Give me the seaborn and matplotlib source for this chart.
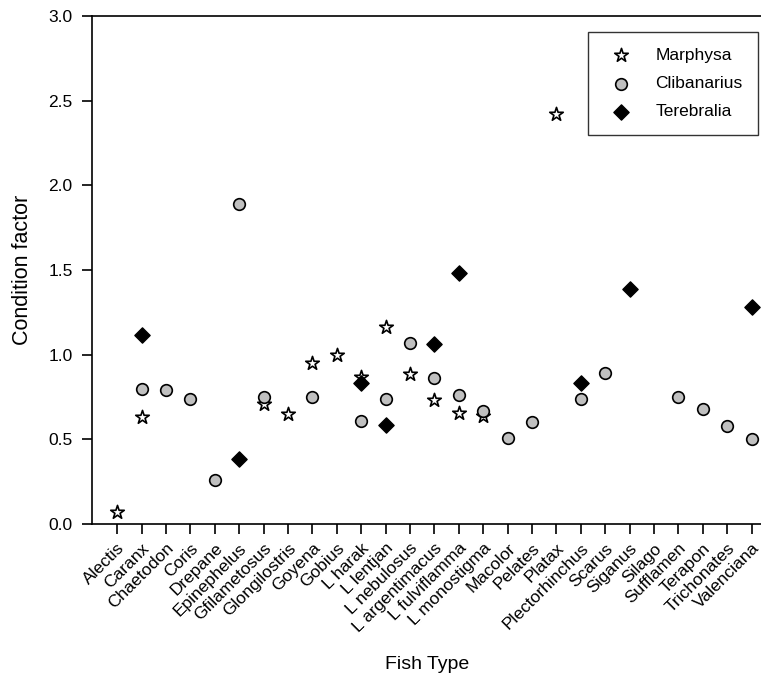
import matplotlib
matplotlib.use("Agg")
import matplotlib.pyplot as plt
import seaborn as sns
import pandas as pd
import numpy as np

categories = ["Alectis", "Caranx", "Chaetodon", "Coris", "Drepane", "Epinephelus",
              "Gfilametosus", "Glongilostris", "Goyena", "Gobius", "L harak", "L lentjan",
              "L nebulosus", "L argentimacus", "L fulviflamma", "L monostigma", "Macolor",
              "Pelates", "Platax", "Plectorhinchus", "Scarus", "Siganus", "Silago",
              "Sufflamen", "Terapon", "Trichonates", "Valenciana"]

marphysa_fish = ["Alectis", "Caranx", "Gfilametosus", "Glongilostris", "Goyena", "Gobius",
                 "L harak", "L lentjan", "L nebulosus", "L argentimacus", "L fulviflamma",
                 "L monostigma", "Platax"]
marphysa_vals = [0.07, 0.63, 0.71, 0.65, 0.95, 1.00, 0.87, 1.165, 0.885, 0.73, 0.655, 0.64, 2.42]

clibanarius_fish = ["Caranx", "Chaetodon", "Coris", "Drepane", "Epinephelus", "Gfilametosus",
                    "Goyena", "L harak", "L lentjan", "L nebulosus", "L argentimacus",
                    "L fulviflamma", "L monostigma", "Macolor", "Pelates", "Plectorhinchus",
                    "Scarus", "Sufflamen", "Terapon", "Trichonates", "Valenciana"]
clibanarius_vals = [0.80, 0.79, 0.74, 0.26, 1.89, 0.75, 0.75, 0.61, 0.74, 1.07, 0.86,
                    0.76, 0.67, 0.51, 0.60, 0.74, 0.89, 0.75, 0.68, 0.58, 0.50]

terebralia_fish = ["Caranx", "Epinephelus", "L harak", "L lentjan", "L argentimacus",
                   "L fulviflamma", "Plectorhinchus", "Siganus", "Valenciana"]
terebralia_vals = [1.115, 0.385, 0.83, 0.585, 1.065, 1.48, 0.835, 1.385, 1.28]

series = [
    ("Marphysa", marphysa_fish, marphysa_vals, dict(marker="*", s=105, color="white", edgecolor="black", linewidth=1.2)),
    ("Clibanarius", clibanarius_fish, clibanarius_vals, dict(marker="o", s=70, color="#c0c0c0", edgecolor="black", linewidth=1.2)),
    ("Terebralia", terebralia_fish, terebralia_vals, dict(marker="D", s=60, color="black", edgecolor="black", linewidth=1.0)),
]

sns.set_style("ticks")
plt.rcParams["font.family"] = ["Liberation Sans", "DejaVu Sans"]
plt.rcParams["text.color"] = "black"
plt.rcParams["axes.labelcolor"] = "black"
plt.rcParams["xtick.color"] = "black"
plt.rcParams["ytick.color"] = "black"

fig = plt.figure(figsize=(7.61, 6.8), dpi=100)
ax = fig.add_axes([92/761, 1-524/680, (763-92)/761, (524-16)/680])

for name, fish, vals, kw in series:
    df = pd.DataFrame({"fish": fish, "value": vals})
    df["pos"] = df["fish"].map({c: i for i, c in enumerate(categories)})
    sns.scatterplot(data=df, x="pos", y="value", ax=ax, label=name, zorder=3, **kw)

ax.set_xlim(-1.03, 26.47)
ax.set_ylim(0, 3.0)
ax.set_yticks(np.arange(0, 3.01, 0.5))
ax.set_yticklabels([f"{v:.1f}" for v in np.arange(0, 3.01, 0.5)], fontsize=12.5)
ax.set_xticks(range(len(categories)))
ax.set_xticklabels(categories, rotation=45, ha="right", rotation_mode="anchor", fontsize=12.5)
ax.tick_params(axis="both", direction="out", length=7, width=1.2, color="black", labelcolor="black")
ax.tick_params(axis="y", pad=7)
ax.tick_params(axis="x", pad=5)
ax.set_xlabel("Fish Type", fontsize=14, labelpad=15)
ax.set_ylabel("Condition factor", fontsize=15.5, labelpad=11)
for sp in ax.spines.values():
    sp.set_linewidth(1.2)
    sp.set_color("black")

leg = ax.legend(loc="upper right", bbox_to_anchor=(0.993, 0.968), frameon=True, fancybox=False,
                edgecolor="black", fontsize=12.5, borderpad=0.9, labelspacing=0.75,
                handletextpad=1.0, borderaxespad=0)
leg.get_frame().set_linewidth(1.0)

fig.savefig("out.png", dpi=100)
